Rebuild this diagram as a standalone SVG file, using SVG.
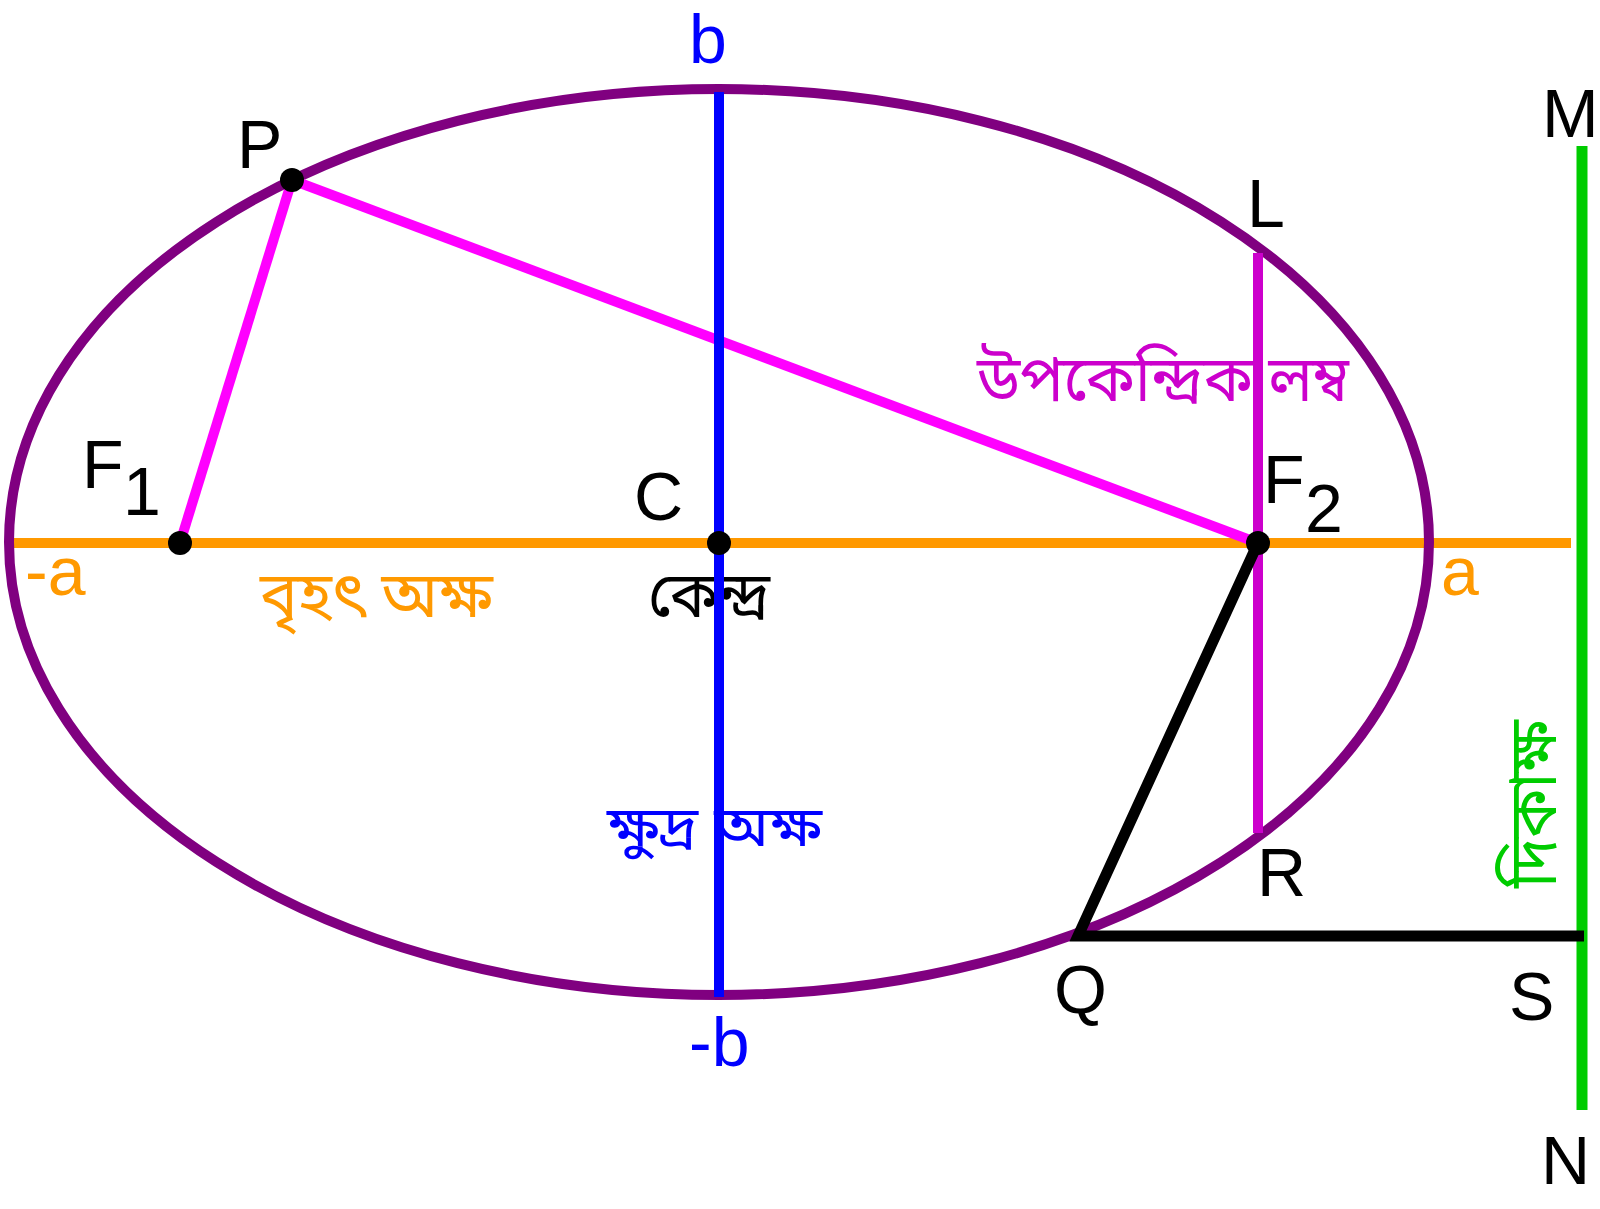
<svg xmlns="http://www.w3.org/2000/svg" width="1600" height="1209" viewBox="0 0 1600 1209">
<style>
.lat{font-family:"Liberation Sans",Arial,sans-serif;font-size:68px}
.bn{font-family:"Noto Sans Bengali","Noto Serif Bengali","Lohit Bengali","Noto Sans","Liberation Sans",sans-serif;font-size:64px}
.ln{fill:none;stroke-width:10;stroke-linecap:butt}
</style>
<rect width="1600" height="1209" fill="#FFFFFF"/>
<g id="bengali-labels">
<text id="major-axis-label" class="bn" x="260" y="617" fill="#FF9900" textLength="233" lengthAdjust="spacingAndGlyphs">বৃহৎ অক্ষ</text>
<text id="centre-label" class="bn" x="648" y="617" fill="#000000" textLength="122" lengthAdjust="spacingAndGlyphs">কেন্দ্র</text>
<text id="latus-label" class="bn" x="977" y="401" fill="#CC00CC" textLength="372" lengthAdjust="spacingAndGlyphs">উপকেন্দ্রিক লম্ব</text>
<text id="minor-axis-label" class="bn" x="607" y="846" fill="#0000FF" style="font-size:56px" textLength="215" lengthAdjust="spacingAndGlyphs">ক্ষুদ্র অক্ষ</text>
<text id="directrix-label" class="bn" transform="translate(1556,804) rotate(-90)" x="0" y="0" text-anchor="middle" fill="#00CC00" style="font-size:68px" textLength="168" lengthAdjust="spacingAndGlyphs">দিকাক্ষ</text>
</g>
<g id="connectors">
<line id="major-axis" class="ln" x1="8" y1="543" x2="1571" y2="543" stroke="#FF9900"/>
<ellipse id="ellipse" class="ln" cx="719" cy="542" rx="710" ry="453" stroke="#800080"/>
<line id="PF1" class="ln" x1="292" y1="180" x2="180" y2="543" stroke="#FF00FF"/>
<line id="PF2" class="ln" x1="292" y1="180" x2="1258" y2="543" stroke="#FF00FF"/>
<line id="latus-rectum" class="ln" x1="1258" y1="253" x2="1258" y2="833" stroke="#CC00CC"/>
<line id="minor-axis" class="ln" x1="719" y1="92" x2="719" y2="997" stroke="#0000FF"/>
<line id="directrix" class="ln" x1="1582" y1="146" x2="1582" y2="1110" stroke="#00CC00" style="stroke-width:11"/>
<polyline id="QF2-QS" class="ln" points="1258,543 1078,936 1584,936" stroke="#000000" style="stroke-width:11;stroke-linejoin:miter"/>
</g>
<g id="points" fill="#000000">
<circle id="P" cx="292" cy="180" r="12"/>
<circle id="F1" cx="180" cy="543" r="12"/>
<circle id="C" cx="719" cy="543" r="12"/>
<circle id="F2" cx="1258" cy="543" r="12"/>
</g>
<g id="letter-labels" class="lat">
<text x="689" y="63" fill="#0000FF">b</text>
<text x="689" y="1066" fill="#0000FF">-b</text>
<text x="237" y="168" fill="#000000">P</text>
<text x="82" y="488" fill="#000000">F</text>
<text x="123" y="515" fill="#000000">1</text>
<text x="634" y="520" fill="#000000">C</text>
<text x="1247" y="227" fill="#000000">L</text>
<text x="1542" y="137" fill="#000000">M</text>
<text x="1263" y="503" fill="#000000">F</text>
<text x="1305" y="532" fill="#000000">2</text>
<text x="25" y="595" fill="#FF9900">-a</text>
<text x="1441" y="595" fill="#FF9900">a</text>
<text x="1257" y="896" fill="#000000">R</text>
<text x="1054" y="1013" fill="#000000">Q</text>
<text x="1509" y="1020" fill="#000000">S</text>
<text x="1541" y="1184" fill="#000000">N</text>
</g>
</svg>
